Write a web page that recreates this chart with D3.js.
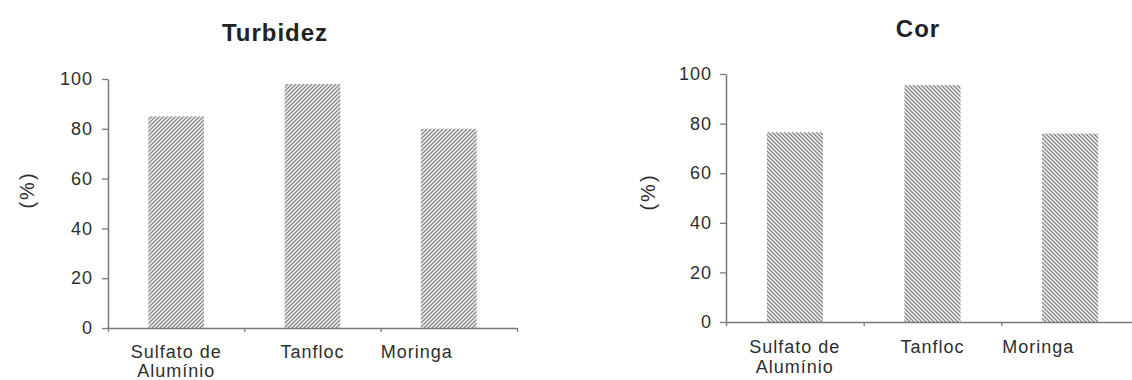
<!DOCTYPE html>
<html>
<head>
<meta charset="utf-8">
<script src="https://cdn.jsdelivr.net/npm/d3@7"></script>
<style>
  html, body { margin: 0; padding: 0; background: #fff; }
  svg { display: block; }
  text { font-family: "Liberation Sans", Arial, sans-serif; }
</style>
</head>
<body>
<svg id="chart" width="1132" height="380"></svg>
<script>
const categories = ["Sulfato de\nAlumínio", "Tanfloc", "Moringa"];
const turbidezValues = [85, 98, 80];
const corValues = [76.5, 95.5, 76];
const yTicks = [0, 20, 40, 60, 80, 100];
const titles = ["Turbidez", "Cor"];
const yLabel = "(%)";

const svg = d3.select("#chart");
const defs = svg.append("defs");

function hatch(id, dir) {
  const p = defs.append("pattern")
    .attr("id", id).attr("patternUnits", "userSpaceOnUse")
    .attr("width", 4).attr("height", 4);
  p.append("rect").attr("width", 4).attr("height", 4).attr("fill", "#f4f4f4");
  const d = dir === "fwd"
    ? "M-1,1 l2,-2 M0,4 l4,-4 M3,5 l2,-2"
    : "M-1,3 l2,2 M0,0 l4,4 M3,-1 l2,2";
  p.append("path").attr("d", d).attr("stroke", "#8a8a8a").attr("stroke-width", 1.4);
}
hatch("hatchFwd", "fwd");
hatch("hatchBack", "back");

const panels = [
  { title: titles[0], values: turbidezValues, x0: 108, x1: 517, y0: 328, y1: 79,
    titleX: 275, titleY: 41, labX: 27, labY: 190, fill: "url(#hatchFwd)", catY: 358, lineGap: 19, pad: 9 },
  { title: titles[1], values: corValues, x0: 726, x1: 1139, y0: 322, y1: 74,
    titleX: 918, titleY: 37, labX: 648, labY: 192, fill: "url(#hatchBack)", catY: 353, lineGap: 20, pad: 8 }
];

const axisColor = "#7a7a7a";
const textColor = "#2e2e2e";

panels.forEach(P => {
  const g = svg.append("g");
  const x = d3.scaleBand().domain(categories).range([P.x0, P.x1])
    .paddingInner(0.592).paddingOuter(0.296);
  const y = d3.scaleLinear().domain([0, 100]).range([P.y0, P.y1]);
  const xEdge = d3.scaleLinear().domain([0, categories.length]).range([P.x0, P.x1]);

  // bars
  g.selectAll("rect.bar").data(P.values).join("rect")
    .attr("class", "bar")
    .attr("x", (d, i) => x(categories[i]))
    .attr("width", x.bandwidth())
    .attr("y", d => y(d))
    .attr("height", d => y(0) - y(d))
    .attr("fill", P.fill);

  // y axis
  const ya = g.append("g").attr("transform", `translate(${P.x0},0)`)
    .call(d3.axisLeft(y).tickValues(yTicks).tickSize(6).tickSizeOuter(0).tickPadding(P.pad));
  ya.select(".domain").attr("stroke", axisColor).attr("stroke-width", 1.5);
  ya.selectAll(".tick line").attr("stroke", axisColor).attr("stroke-width", 1.3);
  ya.selectAll(".tick text").attr("fill", textColor).attr("font-size", 18)
    .attr("letter-spacing", 1).attr("font-family", "Liberation Sans, Arial, sans-serif");

  // x axis (band edges as ticks)
  const xa = g.append("g").attr("transform", `translate(0,${P.y0})`)
    .call(d3.axisBottom(xEdge).tickValues(d3.range(categories.length + 1))
      .tickFormat("").tickSize(4).tickSizeOuter(0));
  xa.select(".domain").attr("stroke", axisColor).attr("stroke-width", 1.5);
  xa.selectAll(".tick line").attr("stroke", axisColor).attr("stroke-width", 1.3);

  // category labels
  categories.forEach((c, i) => {
    const cx = x(c) + x.bandwidth() / 2 + (i === 2 ? -32 : 0);
    const t = g.append("text").attr("x", cx).attr("y", P.catY)
      .attr("text-anchor", "middle").attr("font-size", 18)
      .attr("letter-spacing", 1).attr("fill", textColor);
    c.split("\n").forEach((line, j) => {
      t.append("tspan").attr("x", cx).attr("dy", j === 0 ? 0 : P.lineGap).text(line);
    });
  });

  // title
  g.append("text").attr("x", P.titleX).attr("y", P.titleY)
    .attr("text-anchor", "middle").attr("font-size", 24).attr("font-weight", "bold")
    .attr("letter-spacing", 1).attr("fill", "#222").text(P.title);

  // y label
  g.append("text")
    .attr("transform", `translate(${P.labX},${P.labY}) rotate(-90)`)
    .attr("text-anchor", "middle").attr("dy", "0.35em")
    .attr("font-size", 20).attr("letter-spacing", 2).attr("fill", textColor)
    .text(yLabel);
});
</script>
</body>
</html>
